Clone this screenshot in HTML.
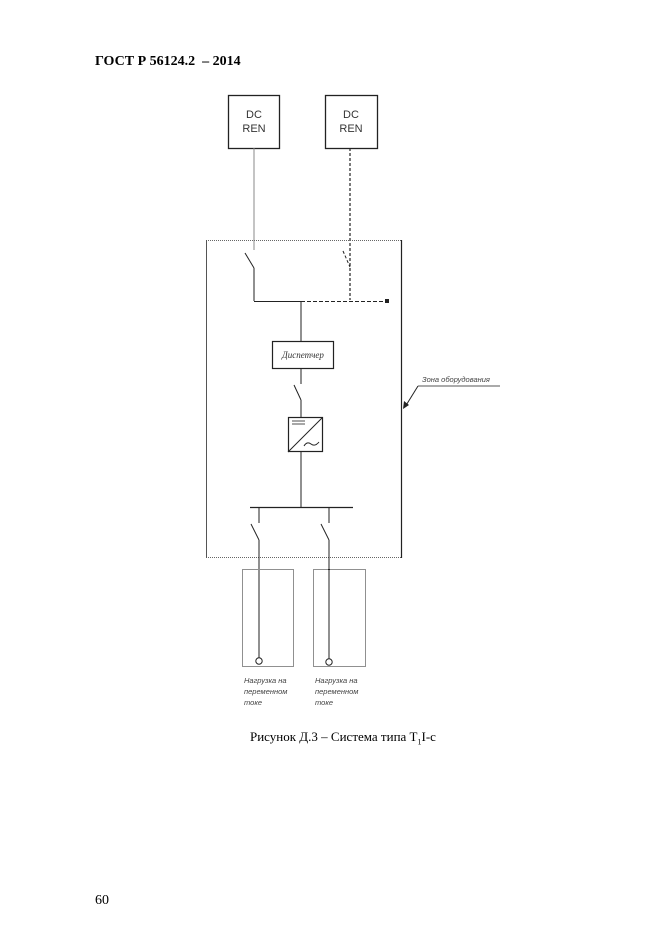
<!DOCTYPE html>
<html><head><meta charset="utf-8"><style>
body{margin:0;background:#fff;width:661px;height:936px;position:relative;overflow:hidden;font-family:"Liberation Serif",serif}
.t{position:absolute;white-space:nowrap}
</style></head><body>
<div class="t" style="left:95px;top:54px;font-weight:bold;font-size:14px">ГОСТ Р 56124.2&nbsp; – 2014</div>
<div class="t" style="left:95px;top:893px;font-size:14px">60</div>
<div class="t" style="left:250px;top:729px;font-size:13px">Рисунок Д.3 – Система типа Т<sub style="font-size:8px">1</sub>I-c</div>
<svg width="661" height="936" style="position:absolute;left:0;top:0" font-family="Liberation Sans, sans-serif">
<g fill="none" stroke="#222">
<rect x="228.5" y="95.5" width="51" height="53" stroke-width="1.3"/>
<rect x="325.5" y="95.5" width="52" height="53" stroke-width="1.3"/>
<line x1="254" y1="148" x2="254" y2="250" stroke="#888"/>
<line x1="350" y1="148" x2="350" y2="300" stroke-dasharray="3,2" stroke-width="1.2"/>
<line x1="206" y1="240.5" x2="402" y2="240.5" stroke-dasharray="1,1" stroke="#666"/>
<line x1="206" y1="557.5" x2="402" y2="557.5" stroke-dasharray="1,1" stroke="#666"/>
<line x1="206.5" y1="240" x2="206.5" y2="558" stroke="#555"/>
<line x1="401.5" y1="240" x2="401.5" y2="558" stroke-width="1.2"/>
<line x1="245" y1="253" x2="254" y2="268"/>
<line x1="254" y1="268" x2="254" y2="301"/>
<line x1="343" y1="251" x2="350" y2="267" stroke-dasharray="3,2"/>
<line x1="254" y1="301.5" x2="301" y2="301.5"/>
<line x1="301" y1="301.5" x2="386" y2="301.5" stroke-dasharray="4,2"/>
<line x1="301" y1="301" x2="301" y2="341"/>
<rect x="272.5" y="341.5" width="61" height="27" stroke-width="1.2"/>
<line x1="301" y1="368" x2="301" y2="384"/>
<line x1="294" y1="385" x2="301" y2="400"/>
<line x1="301" y1="400" x2="301" y2="417"/>
<rect x="288.5" y="417.5" width="34" height="34" stroke-width="1.2"/>
<line x1="288" y1="452" x2="322" y2="418"/>
<line x1="292" y1="421" x2="305" y2="421" stroke-width="0.8"/>
<line x1="292" y1="424" x2="305" y2="424" stroke-width="0.8"/>
<path d="M304 446 q3 -5 7 -2 q4 3 8 -2"/>
<line x1="301" y1="452" x2="301" y2="507"/>
<line x1="250" y1="507.5" x2="353" y2="507.5" stroke-width="1.2"/>
<line x1="259" y1="507" x2="259" y2="523"/>
<line x1="329" y1="507" x2="329" y2="523"/>
<line x1="251" y1="524" x2="259" y2="540"/>
<line x1="321" y1="524" x2="329" y2="540"/>
<line x1="259" y1="540" x2="259" y2="658"/>
<line x1="329" y1="540" x2="329" y2="659"/>
<circle cx="259" cy="661" r="3.2"/>
<circle cx="329" cy="662" r="3.2"/>
<rect x="242.5" y="569.5" width="51" height="97" stroke-dasharray="1,1"/>
<rect x="313.5" y="569.5" width="52" height="97" stroke-dasharray="1,1"/>
<line x1="418" y1="386" x2="500" y2="386" stroke="#555"/>
<line x1="418" y1="386" x2="405" y2="407"/>
</g>
<rect x="385" y="299" width="4" height="4" fill="#222"/>
<path d="M403 409 l1 -8 l5 4 z" fill="#222"/>
<g fill="#333" font-size="11" text-anchor="middle">
<text x="254" y="118">DC</text><text x="254" y="132">REN</text>
<text x="351" y="118">DC</text><text x="351" y="132">REN</text>
</g>
<text x="303" y="358" font-size="9" font-style="italic" text-anchor="middle" fill="#333" font-family="Liberation Serif, serif">Диспетчер</text>
<text x="422" y="382" font-size="7.5" font-style="italic" fill="#444">Зона оборудования</text>
<g font-size="7.5" font-style="italic" fill="#444">
<text x="244" y="683">Нагрузка на</text><text x="244" y="694">переменном</text><text x="244" y="705">токе</text>
<text x="315" y="683">Нагрузка на</text><text x="315" y="694">переменном</text><text x="315" y="705">токе</text>
</g>
</svg>
</body></html>
